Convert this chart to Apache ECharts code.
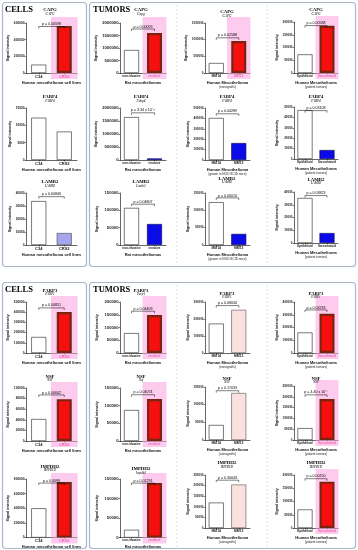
<!DOCTYPE html>
<html><head><meta charset="utf-8">
<script src="https://cdn.jsdelivr.net/npm/echarts@6/dist/echarts.min.js"></script>
<style>html,body{margin:0;padding:0;background:#fff}#c{width:358px;height:550px}</style>
</head><body><div id="c"></div>
<script>
// ---------- categories ----------
const cellLines = ['C34', 'CRS3'];
const ratGroups = ['non-invasive', 'invasive'];
const xenografts = ['MM14', 'MM13'];
const patientTypes = ['Epithelioid', 'Sarcomatoid'];

// ---------- gene titles ----------
const genes = ['CAPG', 'FABP4', 'LAMB2', 'PARP1', 'NSF', 'IMPDH2'];
const ratGenes = ['Capg', 'Fabp4', 'Lamb2', 'Parp1', 'Nsf', 'Impdh2'];

// ---------- values (signal intensity) ----------
const cellsCAPG = [100000, 565000];
const ratCAPG = [920000, 1600000];
const xenoCAPG = [300000, 960000];
const patientCAPG = [73000, 185000];

const cellsFABP4 = [12200, 8200];
const ratFABP4 = [1650000, 60000];
const xenoFABP4 = [404000, 163000];
const patientFABP4 = [47000, 8600];

const cellsLAMB2 = [33800, 9200];
const ratLAMB2 = [107000, 60500];
const xenoLAMB2 = [123500, 32000];
const patientLAMB2 = [35300, 7800];

const cellsPARP1 = [157000, 402000];
const ratPARP1 = [78000, 149000];
const xenoPARP1 = [173000, 254000];
const patientPARP1 = [161000, 307000];

const cellsNSF = [41500, 79000];
const ratNSF = [87700, 119000];
const xenoNSF = [42500, 133000];
const patientNSF = [55000, 190000];

const cellsIMPDH2 = [400000, 760000];
const ratIMPDH2 = [20000, 140000];
const xenoIMPDH2 = [120000, 205000];
const patientIMPDH2 = [70000, 175000];

// ---------- y axis ranges [max, interval] ----------
const axCellsCAPG = [600000, 200000], axRatCAPG = [2000000, 500000], axXenoCAPG = [1500000, 500000], axPatientCAPG = [200000, 50000];
const axCellsFABP4 = [15000, 5000], axRatFABP4 = [2000000, 500000], axXenoFABP4 = [500000, 100000], axPatientFABP4 = [50000, 10000];
const axCellsLAMB2 = [40000, 10000], axRatLAMB2 = [150000, 50000], axXenoLAMB2 = [150000, 50000], axPatientLAMB2 = [40000, 10000];
const axCellsPARP1 = [500000, 100000], axRatPARP1 = [200000, 50000], axXenoPARP1 = [300000, 100000], axPatientPARP1 = [400000, 100000];
const axCellsNSF = [100000, 20000], axRatNSF = [150000, 50000], axXenoNSF = [150000, 50000], axPatientNSF = [250000, 50000];
const axCellsIMPDH2 = [800000, 200000], axRatIMPDH2 = [150000, 50000], axXenoIMPDH2 = [250000, 50000], axPatientIMPDH2 = [200000, 50000];

// ---------- p values (cells, rat, xeno, patient) ----------
const pCAPG = ['p = 0.00598', 'p = 0.00059', 'p = 0.02588', 'p = 0.00588'];
const pFABP4 = ['', 'p = 3.34 x 10⁻¹¹', 'p = 0.04289', 'p = 0.03108'];
const pLAMB2 = ['p = 0.00846', 'p = 0.04807', 'p = 0.00010', 'p = 0.03823'];
const pPARP1 = ['p = 0.00851', 'p = 0.04409', 'p = 0.08034', 'p = 0.03233'];
const pNSF = ['p = 0.00602', 'p = 0.04074', 'p = 0.17033', 'p = 4.40 x 10⁻⁵'];
const pIMPDH2 = ['p = 0.0099', 'p = 0.01291', 'p = 0.30043', 'p = 0.00250'];

// ---------- assemble ----------
const VALS = [
  [cellsCAPG, ratCAPG, xenoCAPG, patientCAPG],
  [cellsFABP4, ratFABP4, xenoFABP4, patientFABP4],
  [cellsLAMB2, ratLAMB2, xenoLAMB2, patientLAMB2],
  [cellsPARP1, ratPARP1, xenoPARP1, patientPARP1],
  [cellsNSF, ratNSF, xenoNSF, patientNSF],
  [cellsIMPDH2, ratIMPDH2, xenoIMPDH2, patientIMPDH2]
];
const AXES = [
  [axCellsCAPG, axRatCAPG, axXenoCAPG, axPatientCAPG],
  [axCellsFABP4, axRatFABP4, axXenoFABP4, axPatientFABP4],
  [axCellsLAMB2, axRatLAMB2, axXenoLAMB2, axPatientLAMB2],
  [axCellsPARP1, axRatPARP1, axXenoPARP1, axPatientPARP1],
  [axCellsNSF, axRatNSF, axXenoNSF, axPatientNSF],
  [axCellsIMPDH2, axRatIMPDH2, axXenoIMPDH2, axPatientIMPDH2]
];
const PV = [pCAPG, pFABP4, pLAMB2, pPARP1, pNSF, pIMPDH2];

// layout (positions/styles)
const COLS = [
  {x0: 26, x1: 77, tx: 50, ynGap: 12, yFs: 3.2, xFs: 4, cats: cellLines},
  {x0: 120, x1: 166, tx: 141, ynGap: 21, yFs: 4.2, xFs: 3, cats: ratGroups},
  {x0: 205, x1: 250, tx: 227, ynGap: 15, yFs: 3, xFs: 3.4, cats: xenografts},
  {x0: 294, x1: 338, tx: 316, ynGap: 15, yFs: 3, xFs: 3, cats: patientTypes}
];
// per row, per column: [top, bottom, titleY, subY]
const GEOM = [
  [[23,73,10,14],[23,73,10,14],[23,73,12,16],[22,73,10,14]],
  [[108,160,97,101],[108,160,97,101],[108,160,97,101],[107,159,97,101]],
  [[193,245,182,186],[193,245,182,186],[193,245,179,182],[192,243,180,183]],
  [[302,353,291,294],[302,353,291,294],[302,353,294,297],[302,353,294,297]],
  [[388,441,377,380],[388,441,377,380],[387,440,379,382],[386,440,379,382]],
  [[479,539,467,470],[479,539,469,473],[475,528,463,467],[475,528,463,467]]
];

const WHITE = {color: '#ffffff', borderColor: '#222', borderWidth: 0.6};
const RED = {color: '#f50f0f', borderColor: '#7a2410', borderWidth: 2.2};
const BLUE = {color: '#0b0be8', borderColor: '#000050', borderWidth: 0.6};
const LAV = {color: '#a4a4ef', borderColor: '#444', borderWidth: 0.6};
const PINK = {color: '#fbe1de', borderColor: '#555', borderWidth: 0.6};

function secondStyle(r, c) {
  if (r === 0) return [RED, true];
  if (r === 1) return c === 0 ? [WHITE, false] : [BLUE, false];
  if (r === 2) return c === 0 ? [LAV, false] : [BLUE, false];
  return c === 2 ? [PINK, false] : [RED, true];
}
function xName(r, c) {
  if (c === 0) return '{a|Human mesothelioma cell lines}';
  if (c === 1) return '{a|Rat mesotheliomas}';
  if (c === 2) return '{a|Human Mesothelioma}\n{b|' + ((r === 1 || r === 2) ? '(grown in NOD SCID mice)' : '(xenografts)') + '}';
  return '{a|Human Mesothelioma}\n{b|(patient tumors)}';
}

const grid = [], xAxis = [], yAxis = [], series = [], graphic = [];
const SANS = 'Liberation Sans';
const SERIF = 'Liberation Serif';

// panel boxes
[[2.5, 2.5, 84, 264], [89.5, 2.5, 266, 264], [2.5, 282.5, 84, 266], [89.5, 282.5, 266, 266]].forEach(b => {
  graphic.push({type: 'rect', shape: {x: b[0], y: b[1], width: b[2], height: b[3], r: 3}, style: {fill: null, stroke: '#aab6cc', lineWidth: 1.2}, z: 0});
});
[[177, 5, 265], [267, 5, 265], [177, 285, 547], [267, 285, 547]].forEach(l => {
  graphic.push({type: 'line', shape: {x1: l[0], y1: l[1], x2: l[0], y2: l[2]}, style: {stroke: '#d3d7e0', lineWidth: 0.8, lineDash: [2, 2]}, z: 0});
});
[['CELLS', 5, 10], ['TUMORS', 93, 10], ['CELLS', 5, 290], ['TUMORS', 93, 290]].forEach(t => {
  graphic.push({type: 'text', x: t[1], y: t[2], style: {text: t[0], fontFamily: SERIF, fontWeight: 'bold', fontSize: 8.5, fill: '#000', align: 'left', verticalAlign: 'middle'}, z: 10});
});

let gi = 0;
for (let r = 0; r < 6; r++) {
  for (let c = 0; c < 4; c++) {
    const col = COLS[c], g = GEOM[r][c];
    const vals = VALS[r][c], ax = AXES[r][c], p = PV[r][c];
    const [st2, hl] = secondStyle(r, c);
    const i = gi++;
    grid.push({left: col.x0, top: g[0], width: col.x1 - col.x0, height: g[1] - g[0]});
    xAxis.push({
      type: 'category', gridIndex: i,
      data: col.cats.map((n, k) => (k === 1 && hl) ? {value: n, textStyle: {color: '#e0156a'}} : n),
      axisLine: {lineStyle: {color: '#000', width: 0.6}},
      axisTick: {show: true, alignWithLabel: true, length: 1.5, lineStyle: {color: '#000', width: 0.5}},
      axisLabel: {fontSize: col.xFs, color: '#222', margin: 1.5, interval: 0, fontFamily: SANS, fontWeight: 'bold'},
      name: xName(r, c), nameLocation: 'middle', nameGap: 7,
      nameTextStyle: {rich: {
        a: {fontSize: 4, fontWeight: 'bold', fontFamily: SANS, color: '#111', lineHeight: 4.8},
        b: {fontSize: 3.2, fontFamily: SANS, color: '#222', lineHeight: 4}
      }}
    });
    yAxis.push({
      type: 'value', gridIndex: i, min: 0, max: ax[0], interval: ax[1],
      axisLine: {show: true, lineStyle: {color: '#000', width: 0.6}},
      axisTick: {show: true, length: 1.5, lineStyle: {color: '#000', width: 0.5}},
      splitLine: {show: false},
      axisLabel: {fontSize: col.yFs, color: '#222', margin: 1.5, fontFamily: SANS, fontWeight: 'bold', formatter: v => String(v)},
      name: 'Signal intensity', nameLocation: 'middle', nameGap: col.ynGap,
      nameTextStyle: {fontSize: 3.6, fontWeight: 'bold', fontFamily: SANS, color: '#111'}
    });
    series.push({
      type: 'bar', xAxisIndex: i, yAxisIndex: i, barWidth: 15, z: 2, silent: true,
      data: vals.map((v, k) => ({value: v, itemStyle: k === 0 ? WHITE : st2}))
    });
    if (hl) {
      series.push({
        type: 'custom', xAxisIndex: i, yAxisIndex: i, z: 1, silent: true,
        data: [[1, ax[0]]],
        renderItem: (params, api) => {
          const t = api.coord([1, api.value(1)]);
          const b = api.coord([1, 0]);
          const w = api.size([1, 0])[0];
          return {type: 'rect', shape: {x: t[0] - w * 0.52, y: t[1] - 6, width: w * 1.04, height: b[1] - t[1] + 12},
            style: {fill: 'rgba(250,160,222,0.55)'}};
        }
      });
    }
    if (p) {
      const yb = Math.min(Math.max(...vals) * 1.1, ax[0] * 0.93);
      series.push({
        type: 'custom', xAxisIndex: i, yAxisIndex: i, z: 5, silent: true,
        data: [[0, yb]],
        renderItem: (params, api) => {
          const a = api.coord([0, api.value(1)]);
          const b = api.coord([1, api.value(1)]);
          return {type: 'group', children: [
            {type: 'polyline', shape: {points: [[a[0], a[1] + 2], [a[0], a[1]], [b[0], a[1]], [b[0], a[1] + 2]]},
              style: {stroke: '#000', lineWidth: 0.5, fill: null}},
            {type: 'text', x: (a[0] + b[0]) / 2, y: a[1] - 0.4,
              style: {text: p, fontSize: 3.6, fontFamily: SANS, fill: '#000', align: 'center', verticalAlign: 'bottom'}}
          ]};
        }
      });
    }
    graphic.push({type: 'text', x: col.tx, y: g[2], style: {text: genes[r], fontFamily: SERIF, fontWeight: 'bold', fontSize: 4.8, fill: '#000', align: 'center', verticalAlign: 'middle'}, z: 10});
    graphic.push({type: 'text', x: col.tx, y: g[3], style: {text: c === 1 ? ratGenes[r] : genes[r], fontFamily: SERIF, fontStyle: 'italic', fontSize: 3.4, fill: '#000', align: 'center', verticalAlign: 'middle'}, z: 10});
  }
}

const chart = echarts.init(document.getElementById('c'), null, {renderer: 'canvas'});
chart.setOption({animation: false, backgroundColor: '#fff', grid, xAxis, yAxis, series, graphic});
</script>
</body></html>
